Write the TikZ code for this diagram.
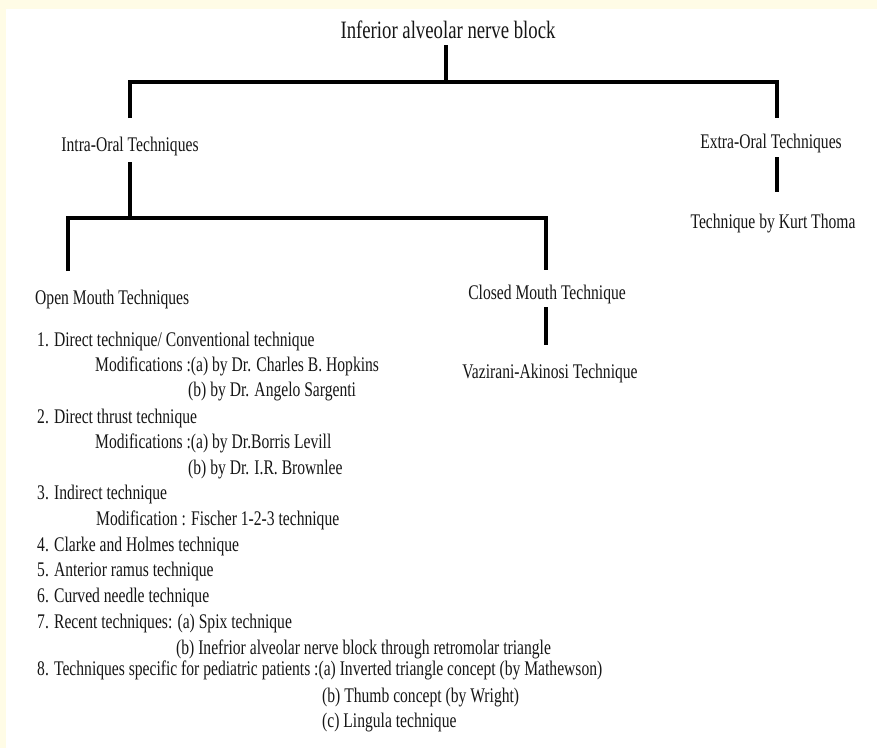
\documentclass[tikz,border=0pt]{standalone}
\usepackage{fontspec}
\setmainfont{Liberation Serif}[FakeStretch=0.75]
\definecolor{cream}{RGB}{255,252,230}
\definecolor{ink}{RGB}{22,22,22}
\begin{document}
\begin{tikzpicture}[x=1pt,y=-1pt,
  tree/.style={line width=3.4pt, draw=black, line cap=butt, line join=miter},
  lbl/.style={inner sep=0pt, text=ink, font=\fontsize{20.8}{25}\selectfont, anchor=base},
  item/.style={lbl, anchor=base west},
  ttl/.style={lbl, font=\fontsize{25}{30}\selectfont}]
\fill[white] (0,0) rectangle (877,748);
\fill[cream] (0,0) rectangle (877,9);
\fill[cream] (0,0) rectangle (6,748);
\useasboundingbox (0,0) rectangle (877,748);

% tree labels
\node[ttl] (title) at (448,38) {Inferior alveolar nerve block};
\node[lbl] (intra) at (130,151) {Intra-Oral Techniques};
\node[lbl] (extra) at (771,148) {Extra-Oral Techniques};
\node[lbl] (kurt) at (773,228) {Technique by Kurt Thoma};
\node[item] (open) at (35,304) {Open Mouth Techniques};
\node[lbl] (closed) at (547,299) {Closed Mouth Technique};
\node[lbl] (vaz) at (550,378) {Vazirani-Akinosi Technique};

% list
\node[item] (l1) at (37,346) {1. Direct technique/ Conventional technique};
\node[item] (l2) at (95,371) {Modifications :(a) by Dr. Charles B. Hopkins};
\node[item] (l3) at (188,396) {(b) by Dr. Angelo Sargenti};
\node[item] (l4) at (37,423) {2. Direct thrust technique};
\node[item] (l5) at (95,448) {Modifications :(a) by Dr.Borris Levill};
\node[item] (l6) at (188,474) {(b) by Dr. I.R. Brownlee};
\node[item] (l7) at (37,499) {3. Indirect technique};
\node[item] (l8) at (96,525) {Modification : Fischer 1-2-3 technique};
\node[item] (l9) at (37,551) {4. Clarke and Holmes technique};
\node[item] (l10) at (37,576) {5. Anterior ramus technique};
\node[item] (l11) at (37,602) {6. Curved needle technique};
\node[item] (l12) at (37,628) {7. Recent techniques: (a) Spix technique};
\node[item] (l13) at (176,654) {(b) Inefrior alveolar nerve block through retromolar triangle};
\node[item] (l14) at (37,675) {8. Techniques specific for pediatric patients :(a) Inverted triangle concept (by Mathewson)};
\node[item] (l15) at (322,702) {(b) Thumb concept (by Wright)};
\node[item] (l16) at (322,727) {(c) Lingula technique};

% junctions and free ends
\coordinate (t1) at (446,45);
\coordinate (jTop) at (446,82);
\coordinate (eL) at (130,118);
\coordinate (eR) at (777,118);
\coordinate (i1) at (130,162);
\coordinate (jMid) at (130,218);
\coordinate (eOpen) at (68,271);
\coordinate (eClosed) at (546,270);
\coordinate (x1) at (777,157);
\coordinate (x2) at (777,192);
\coordinate (c1) at (546,307);
\coordinate (c2) at (546,345);

\draw[tree] (t1) -- (jTop);
\draw[tree] (eL) |- (jTop) -| (eR);
\draw[tree] (i1) -- (jMid);
\draw[tree] (eOpen) |- (jMid) -| (eClosed);
\draw[tree] (x1) -- (x2);
\draw[tree] (c1) -- (c2);
\end{tikzpicture}
\end{document}
